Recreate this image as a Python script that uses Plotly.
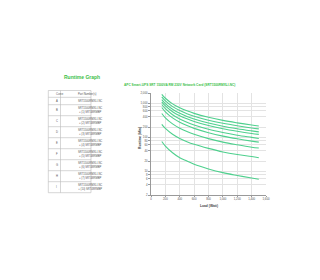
import plotly.graph_objects as go

# ---------------- data ----------------
load = [150, 200, 300, 400, 500, 600, 800, 1000, 1200, 1400, 1500]
curve_A = [75, 55, 35, 25, 20, 16, 11.7, 9.1, 7.5, 6.3, 5.8]
curve_B = [240, 181, 122, 92, 74, 62, 47, 37, 31, 27, 25]
curve_C = [500, 373, 247, 184, 147, 122, 91, 72, 60, 51, 48]
curve_D = [750, 560, 370, 276, 220, 182, 136, 108, 90, 77, 72]
curve_E = [920, 690, 460, 345, 276, 230, 172, 138, 115, 99, 92]
curve_F = [1100, 835, 565, 429, 347, 290, 220, 178, 150, 129, 121]
curve_G = [1280, 974, 663, 504, 407, 343, 261, 211, 178, 154, 144]
curve_H = [1530, 1167, 797, 609, 493, 416, 317, 257, 217, 187, 176]
curve_I = [1830, 1400, 960, 735, 597, 503, 386, 313, 265, 229, 215]

curve_names = ["A", "B", "C", "D", "E", "F", "G", "H", "I"]
series = [curve_A, curve_B, curve_C, curve_D, curve_E, curve_F, curve_G, curve_H, curve_I]
part_numbers = [
    "SRT1500RMXLI-NC",
    "SRT1500RMXLI-NC<br>+ (1) SRT48RMBP",
    "SRT1500RMXLI-NC<br>+ (2) SRT48RMBP",
    "SRT1500RMXLI-NC<br>+ (3) SRT48RMBP",
    "SRT1500RMXLI-NC<br>+ (4) SRT48RMBP",
    "SRT1500RMXLI-NC<br>+ (5) SRT48RMBP",
    "SRT1500RMXLI-NC<br>+ (6) SRT48RMBP",
    "SRT1500RMXLI-NC<br>+ (7) SRT48RMBP",
    "SRT1500RMXLI-NC<br>+ (10) SRT48RMBP",
]
x_ticks = [0, 200, 400, 600, 800, 1000, 1200, 1400, 1600]
y_ticks = [2, 4, 6, 8, 10, 20, 40, 60, 80, 100, 200, 400, 600, 800, 1000, 2000]

# ---------------- styling ----------------
W, H = 320, 280
GREEN = "#3dbf4a"
LINE = "#4fd08e"
FONT = "Liberation Sans"

def px(x):
    return x / W

def py(y):
    return 1 - y / H

fig = go.Figure()
for name, vals in zip(curve_names, series):
    fig.add_trace(go.Scatter(x=load, y=vals, mode="lines", name=name,
                             line=dict(color=LINE, width=1.1, shape="spline"),
                             showlegend=False, hoverinfo="skip"))

annotations = []
for name, vals in zip(curve_names, series):
    annotations.append(dict(x=load[-1], y=vals[-1], xref="x", yref="y", text=name,
                            showarrow=False, yshift=3.5, xshift=1,
                            font=dict(size=3.2, color="#777", family=FONT)))

# titles
annotations.append(dict(x=px(62), y=py(77), xref="paper", yref="paper", xanchor="left",
                        yanchor="middle", text="<b>Runtime Graph</b>", showarrow=False,
                        font=dict(size=5, color=GREEN, family=FONT)))
annotations.append(dict(x=px(179), y=py(84.5), xref="paper", yref="paper", xanchor="center",
                        yanchor="middle",
                        text="<b>APC Smart-UPS SRT 1500VA RM 230V Network Card (SRT1500RMXLI-NC)</b>",
                        showarrow=False, font=dict(size=3.2, color=GREEN, family=FONT)))

# table
shapes = []
tx0, tx1, tx2 = 48.3, 60.5, 91
ty = [90.5, 97.3, 104.7]
for i in range(8):
    ty.append(104.7 + (i + 1) * 11.0)
bc = "#bbbbbb"
shapes.append(dict(type="rect", xref="paper", yref="paper", x0=px(tx0), x1=px(tx2),
                   y0=py(ty[0]), y1=py(ty[-1]), line=dict(color=bc, width=0.6)))
shapes.append(dict(type="line", xref="paper", yref="paper", x0=px(tx1), x1=px(tx1),
                   y0=py(ty[0]), y1=py(ty[-1]), line=dict(color=bc, width=0.6)))
for yy in ty[1:-1]:
    shapes.append(dict(type="line", xref="paper", yref="paper", x0=px(tx0), x1=px(tx2),
                       y0=py(yy), y1=py(yy), line=dict(color=bc, width=0.6)))

tfont = dict(size=2.7, color="#555", family=FONT)
annotations.append(dict(x=px((tx0 + tx1) / 2), y=py((ty[0] + ty[1]) / 2), xref="paper", yref="paper",
                        text="Curve", showarrow=False, font=tfont, yanchor="middle"))
annotations.append(dict(x=px((tx1 + tx2) / 2), y=py((ty[0] + ty[1]) / 2), xref="paper", yref="paper",
                        text="Part Number(s)", showarrow=False, font=tfont, yanchor="middle"))
for i, (c, p) in enumerate(zip(curve_names, part_numbers)):
    ym = (ty[i + 1] + ty[i + 2]) / 2
    annotations.append(dict(x=px((tx0 + tx1) / 2), y=py(ym), xref="paper", yref="paper",
                            text=c, showarrow=False, font=tfont, yanchor="middle"))
    annotations.append(dict(x=px((tx1 + tx2) / 2), y=py(ym), xref="paper", yref="paper",
                            text=p, showarrow=False, font=tfont, yanchor="middle"))

# axis titles
annotations.append(dict(x=px(140), y=py(138), xref="paper", yref="paper", text="<b>Runtime (Min)</b>",
                        textangle=-90, showarrow=False, font=dict(size=3.3, color="#444", family=FONT)))
annotations.append(dict(x=px(209), y=py(203), xref="paper", yref="paper", text="<b>Load (Watt)</b>",
                        yanchor="top", borderpad=0,
                        showarrow=False, font=dict(size=3.3, color="#444", family=FONT)))

fig.update_layout(
    width=W, height=H,
    margin=dict(l=0, r=0, t=0, b=0),
    paper_bgcolor="white", plot_bgcolor="white",
    font=dict(family=FONT, size=2.8, color="#555"),
    annotations=annotations, shapes=shapes,
    xaxis=dict(domain=[px(151), px(266)], range=[0, 1600], tickvals=x_ticks,
               ticktext=[f"{v:,}" for v in x_ticks], showgrid=True, gridcolor="#e3e3e3",
               gridwidth=0.6, showline=True, linecolor="#999", linewidth=0.8,
               ticks="outside", ticklen=1, tickcolor="#999", zeroline=False,
               tickfont=dict(size=2.8, color="#555"), automargin=False, fixedrange=True),
    yaxis=dict(domain=[py(195), py(93)], type="log", range=[0.30103, 3.30103],
               tickvals=y_ticks, ticktext=[f"{v:,}" for v in y_ticks], showgrid=True,
               gridcolor="#e3e3e3", gridwidth=0.6, showline=True, linecolor="#999",
               linewidth=0.8, ticks="outside", ticklen=2, tickcolor="#999", zeroline=False,
               tickfont=dict(size=2.8, color="#555"), automargin=False, fixedrange=True),
)

fig.write_html("out.html")
